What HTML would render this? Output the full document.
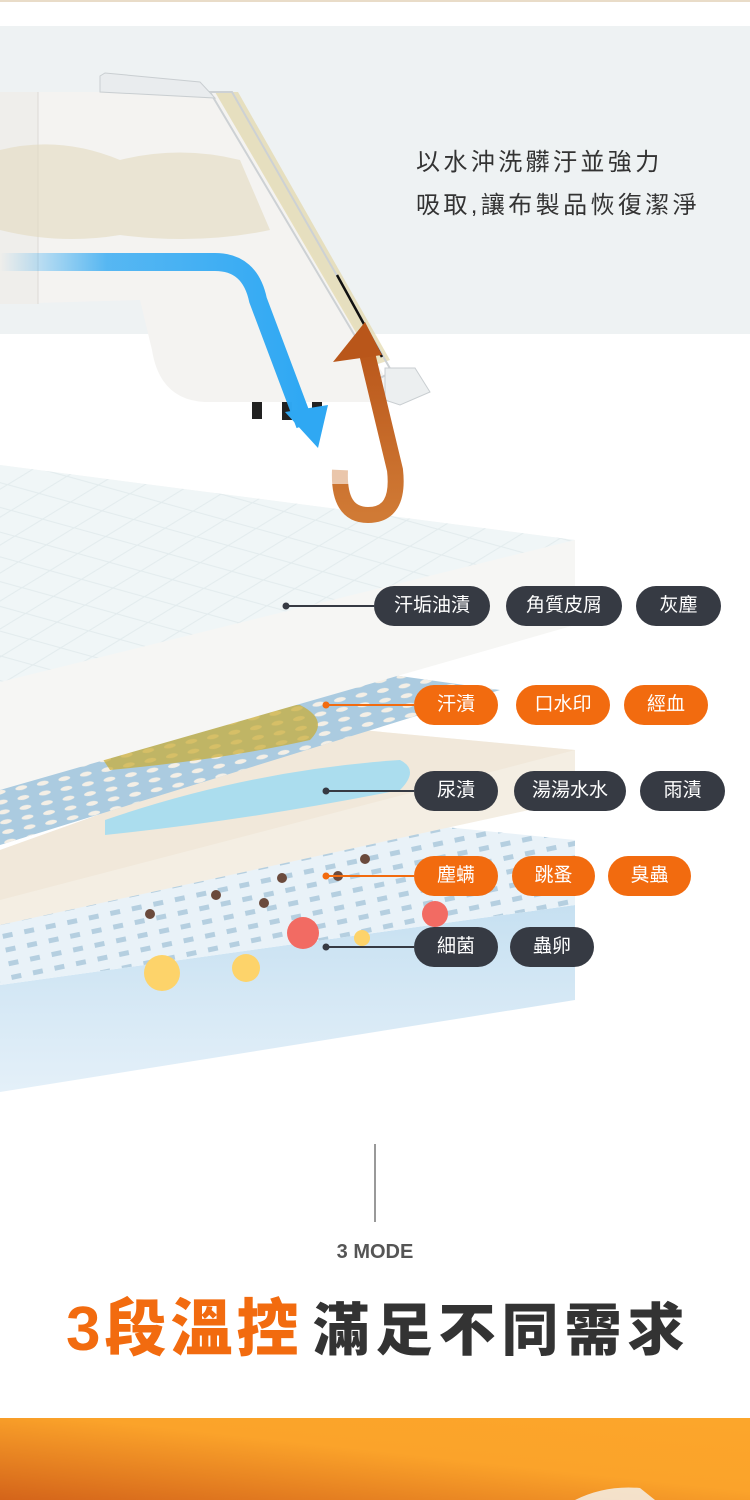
<!DOCTYPE html>
<html><head><meta charset="utf-8">
<style>
html,body{margin:0;padding:0;background:#fff;}
body{width:750px;height:1500px;position:relative;overflow:hidden;font-family:"Liberation Sans","Noto Sans CJK TC",sans-serif;}
.pill{position:absolute;height:40px;line-height:40px;border-radius:20px;color:#fff;font-size:19px;text-align:center;font-family:"Liberation Sans","Noto Sans CJK TC",sans-serif;}
.d{background:#363a43;}
.o{background:#f26b0f;}
.txt{position:absolute;left:416px;font-size:24px;color:#333;letter-spacing:3.4px;white-space:nowrap;}
</style></head><body>
<svg width="750" height="1500" style="position:absolute;left:0;top:0">
<defs>
<linearGradient id="blueA" x1="0" y1="0" x2="1" y2="0"><stop offset="0" stop-color="#2fa8f3" stop-opacity="0"/><stop offset="0.35" stop-color="#2fa8f3" stop-opacity="0.8"/><stop offset="1" stop-color="#2fa8f3"/></linearGradient>
<linearGradient id="orA" x1="0" y1="1" x2="0" y2="0"><stop offset="0" stop-color="#d07a35"/><stop offset="1" stop-color="#b9561a"/></linearGradient>
<linearGradient id="band" x1="0" y1="1" x2="1" y2="0"><stop offset="0" stop-color="#d4641a"/><stop offset="0.55" stop-color="#fba32a"/><stop offset="1" stop-color="#fca62b"/></linearGradient>
<linearGradient id="slab" x1="0" y1="0" x2="0" y2="1"><stop offset="0" stop-color="#c6e0f1"/><stop offset="1" stop-color="#e4f0f9"/></linearGradient>
<pattern id="holes" width="22" height="10" patternUnits="userSpaceOnUse" patternTransform="rotate(-12)"><ellipse cx="11" cy="5" rx="6" ry="2.2" fill="#f4efe6"/></pattern>
<pattern id="sq" width="22" height="14" patternUnits="userSpaceOnUse" patternTransform="rotate(-12)"><rect x="6" y="4" width="10" height="5" fill="#b5cfe0"/></pattern>
<pattern id="quilt" width="60" height="26" patternUnits="userSpaceOnUse" patternTransform="rotate(-8)"><path d="M0,13 L30,0 L60,13 L30,26 Z" fill="none" stroke="#e2ebed" stroke-width="1"/></pattern>
</defs>
<rect x="0" y="0" width="750" height="2" fill="#e9dcc8"/>
<rect x="0" y="26" width="750" height="308" fill="#eef2f3"/>
<path d="M0,92 L215,92 L388,382 L396,402 L205,402 Q160,400 152,350 L140,300 L0,304 Z" fill="#f4f3f1"/>
<rect x="0" y="92" width="38" height="212" fill="#efeeeb"/>
<line x1="38" y1="92" x2="38" y2="304" stroke="#dcdad6"/>
<path d="M0,150 Q60,135 120,160 Q180,145 240,160 L270,230 Q200,245 120,235 Q60,245 0,230 Z" fill="#e2dac0" opacity="0.6"/>
<path d="M215,92 L238,92 L390,360 L375,365 Z" fill="#e2d7a8" opacity="0.7"/>
<path d="M210,92 L232,92 L392,372 L380,378 Z" fill="none" stroke="#cdd1d4" stroke-width="2"/>
<line x1="337" y1="275" x2="382" y2="357" stroke="#111" stroke-width="2.5"/>
<path d="M100,76 L105,73 L200,82 L215,98 L100,92 Z" fill="#e9ecee" stroke="#c9ced1"/>
<path d="M385,368 L415,368 L430,392 L400,405 L385,400 Z" fill="#eceff0" stroke="#c9ced1"/>
<rect x="252" y="402" width="10" height="17" fill="#222"/><rect x="282" y="402" width="10" height="18" fill="#222"/><rect x="312" y="402" width="10" height="16" fill="#222"/>
<path d="M0,985 L575,905 L575,1000 L0,1092 Z" fill="url(#slab)"/>
<path d="M0,925 L355,818 L575,840 L575,905 L0,985 Z" fill="#e9f2f8"/>
<path d="M0,925 L355,818 L575,840 L575,905 L0,985 Z" fill="url(#sq)"/>
<path d="M0,850 L340,728 L575,750 L575,800 L0,925 Z" fill="#f4eee3"/>
<path d="M0,850 L340,728 L575,750 L0,900 Z" fill="#eee5d4" opacity="0.6"/>
<path d="M105,820 Q250,770 400,760 Q420,770 400,790 Q250,820 105,835 Z" fill="#9ad9f2" opacity="0.8"/>
<path d="M0,777 L357,670 L500,690 L0,845 Z" fill="#abcbe0"/>
<path d="M0,777 L357,670 L500,690 L0,845 Z" fill="url(#holes)"/>
<path d="M100,755 Q200,705 300,705 Q330,720 310,740 Q220,760 110,770 Z" fill="#c9ab30" opacity="0.7"/>
<path d="M0,465 L575,540 L575,625 L0,790 Z" fill="#f6f6f4"/>
<path d="M0,465 L575,540 L0,682 Z" fill="#f0f6f7"/>
<path d="M0,465 L575,540 L0,682 Z" fill="url(#quilt)"/>
<path d="M0,262 L215,262 Q250,262 258,300 L305,425" fill="none" stroke="url(#blueA)" stroke-width="18"/>
<polygon points="285,412 328,405 318,448" fill="#2fa8f3"/>
<path d="M340,470 Q338,515 368,515 Q400,515 395,470 L365,345" fill="none" stroke="url(#orA)" stroke-width="16"/>
<polygon points="333,362 365,322 382,355" fill="#b9561a"/>
<rect x="328" y="462" width="24" height="22" fill="#fff" opacity="0.6"/>
<circle cx="162" cy="973" r="18" fill="#fdd36a"/><circle cx="246" cy="968" r="14" fill="#fdd36a"/>
<circle cx="303" cy="933" r="16" fill="#f26b63"/><circle cx="435" cy="914" r="13" fill="#f26b63"/><circle cx="362" cy="938" r="8" fill="#fdd36a"/>
<g fill="#6b4a3c"><circle cx="150" cy="914" r="5"/><circle cx="216" cy="895" r="5"/><circle cx="264" cy="903" r="5"/><circle cx="282" cy="878" r="5"/><circle cx="365" cy="859" r="5"/><circle cx="338" cy="876" r="5"/></g>
<line x1="286" y1="606" x2="374" y2="606" stroke="#363a43" stroke-width="2"/><circle cx="286" cy="606" r="3.5" fill="#363a43"/>
<line x1="326" y1="705" x2="414" y2="705" stroke="#f26b0f" stroke-width="2"/><circle cx="326" cy="705" r="3.5" fill="#f26b0f"/>
<line x1="326" y1="791" x2="414" y2="791" stroke="#363a43" stroke-width="2"/><circle cx="326" cy="791" r="3.5" fill="#363a43"/>
<line x1="326" y1="876" x2="414" y2="876" stroke="#f26b0f" stroke-width="2"/><circle cx="326" cy="876" r="3.5" fill="#f26b0f"/>
<line x1="326" y1="947" x2="414" y2="947" stroke="#363a43" stroke-width="2"/><circle cx="326" cy="947" r="3.5" fill="#363a43"/>
<line x1="375" y1="1144" x2="375" y2="1222" stroke="#777" stroke-width="1.5"/>
<rect x="0" y="1418" width="750" height="82" fill="url(#band)"/>
<path d="M575,1500 Q605,1485 640,1488 L655,1500 Z" fill="#f4f4f4" opacity="0.8"/>
</svg>
<div class="txt" style="top:142px">以水沖洗髒汙並強力</div>
<div class="txt" style="top:185px">吸取,讓布製品恢復潔淨</div>
<div class="pill d" style="left:374px;top:586px;width:116px">汗垢油漬</div>
<div class="pill d" style="left:506px;top:586px;width:116px">角質皮屑</div>
<div class="pill d" style="left:636px;top:586px;width:85px">灰塵</div>
<div class="pill o" style="left:414px;top:685px;width:84px">汗漬</div>
<div class="pill o" style="left:516px;top:685px;width:94px">口水印</div>
<div class="pill o" style="left:624px;top:685px;width:84px">經血</div>
<div class="pill d" style="left:414px;top:771px;width:84px">尿漬</div>
<div class="pill d" style="left:514px;top:771px;width:112px">湯湯水水</div>
<div class="pill d" style="left:640px;top:771px;width:85px">雨漬</div>
<div class="pill o" style="left:414px;top:856px;width:84px">塵螨</div>
<div class="pill o" style="left:512px;top:856px;width:83px">跳蚤</div>
<div class="pill o" style="left:608px;top:856px;width:83px">臭蟲</div>
<div class="pill d" style="left:414px;top:927px;width:84px">細菌</div>
<div class="pill d" style="left:510px;top:927px;width:84px">蟲卵</div>
<div style="position:absolute;left:0;width:750px;top:1241px;text-align:center;font-size:20px;font-weight:bold;color:#555;">3 MODE</div>
<div style="position:absolute;left:66px;top:1290px;font-size:62px;font-weight:900;line-height:80px;white-space:nowrap;font-family:'Liberation Sans','Noto Sans CJK TC',sans-serif;"><span style="color:#f26b0f;letter-spacing:4px">3段溫控</span><span style="color:#333;margin-left:10px;font-size:57px;letter-spacing:6px">滿足不同需求</span></div>
</body></html>
